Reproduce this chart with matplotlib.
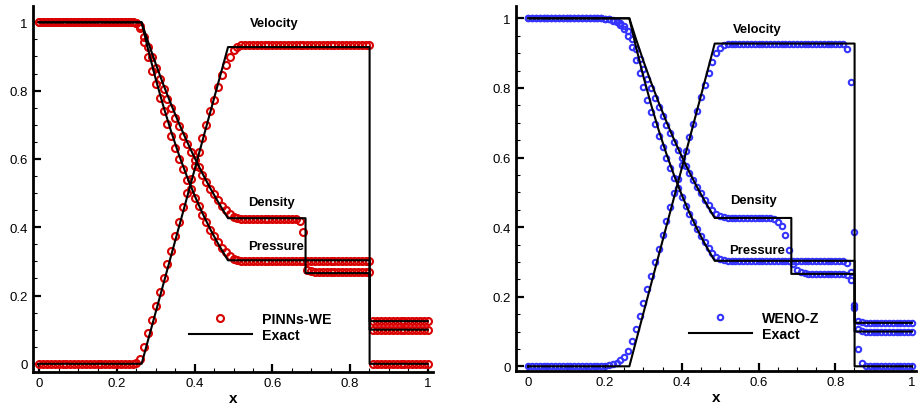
import matplotlib.pyplot as plt
from matplotlib.ticker import MultipleLocator

plt.rcParams['font.family'] = ['Liberation Sans', 'DejaVu Sans']

# mesh nodes (101 points on [0, 1])
x = [0.00, 0.01, 0.02, 0.03, 0.04, 0.05, 0.06, 0.07, 0.08, 0.09,
     0.10, 0.11, 0.12, 0.13, 0.14, 0.15, 0.16, 0.17, 0.18, 0.19,
     0.20, 0.21, 0.22, 0.23, 0.24, 0.25, 0.26, 0.27, 0.28, 0.29,
     0.30, 0.31, 0.32, 0.33, 0.34, 0.35, 0.36, 0.37, 0.38, 0.39,
     0.40, 0.41, 0.42, 0.43, 0.44, 0.45, 0.46, 0.47, 0.48, 0.49,
     0.50, 0.51, 0.52, 0.53, 0.54, 0.55, 0.56, 0.57, 0.58, 0.59,
     0.60, 0.61, 0.62, 0.63, 0.64, 0.65, 0.66, 0.67, 0.68, 0.69,
     0.70, 0.71, 0.72, 0.73, 0.74, 0.75, 0.76, 0.77, 0.78, 0.79,
     0.80, 0.81, 0.82, 0.83, 0.84, 0.85, 0.86, 0.87, 0.88, 0.89,
     0.90, 0.91, 0.92, 0.93, 0.94, 0.95, 0.96, 0.97, 0.98, 0.99,
     1.00]

# PINNs-WE prediction
pinn_rho = [
    1.000, 1.000, 1.000, 1.000, 1.000, 1.000, 1.000, 1.000, 1.000, 1.000,
    1.000, 1.000, 1.000, 1.000, 1.000, 1.000, 1.000, 1.000, 1.000, 1.000,
    1.000, 1.000, 1.000, 1.000, 1.000, 0.999, 0.988, 0.958, 0.927, 0.897,
    0.866, 0.835, 0.806, 0.776, 0.750, 0.721, 0.695, 0.668, 0.643, 0.620,
    0.597, 0.575, 0.554, 0.533, 0.513, 0.497, 0.479, 0.462, 0.449, 0.439,
    0.430, 0.426, 0.424, 0.423, 0.423, 0.423, 0.423, 0.423, 0.423, 0.423,
    0.423, 0.423, 0.423, 0.423, 0.423, 0.423, 0.423, 0.419, 0.385, 0.276,
    0.271, 0.269, 0.269, 0.269, 0.269, 0.269, 0.269, 0.269, 0.269, 0.269,
    0.269, 0.269, 0.269, 0.269, 0.269, 0.269, 0.125, 0.125, 0.125, 0.125,
    0.125, 0.125, 0.125, 0.125, 0.125, 0.125, 0.125, 0.125, 0.125, 0.125,
    0.125]
pinn_u = [
    0.000, 0.000, 0.000, 0.000, 0.000, 0.000, 0.000, 0.000, 0.000, 0.000,
    0.000, 0.000, 0.000, 0.000, 0.000, 0.000, 0.000, 0.000, 0.000, 0.000,
    0.000, 0.000, 0.000, 0.000, 0.000, 0.002, 0.014, 0.050, 0.089, 0.128,
    0.168, 0.209, 0.250, 0.292, 0.331, 0.375, 0.416, 0.458, 0.500, 0.540,
    0.580, 0.620, 0.660, 0.700, 0.739, 0.773, 0.811, 0.846, 0.875, 0.899,
    0.919, 0.929, 0.933, 0.934, 0.934, 0.934, 0.934, 0.934, 0.934, 0.934,
    0.934, 0.934, 0.934, 0.934, 0.934, 0.934, 0.934, 0.934, 0.934, 0.934,
    0.934, 0.934, 0.934, 0.934, 0.934, 0.934, 0.934, 0.934, 0.934, 0.934,
    0.934, 0.934, 0.934, 0.934, 0.934, 0.934, 0.000, 0.000, 0.000, 0.000,
    0.000, 0.000, 0.000, 0.000, 0.000, 0.000, 0.000, 0.000, 0.000, 0.000,
    0.000]
pinn_p = [
    1.000, 1.000, 1.000, 1.000, 1.000, 1.000, 1.000, 1.000, 1.000, 1.000,
    1.000, 1.000, 1.000, 1.000, 1.000, 1.000, 1.000, 1.000, 1.000, 1.000,
    1.000, 1.000, 1.000, 1.000, 1.000, 0.999, 0.984, 0.942, 0.899, 0.858,
    0.818, 0.778, 0.739, 0.702, 0.668, 0.633, 0.600, 0.569, 0.539, 0.512,
    0.486, 0.461, 0.437, 0.414, 0.393, 0.375, 0.356, 0.340, 0.326, 0.316,
    0.307, 0.303, 0.301, 0.300, 0.300, 0.300, 0.300, 0.300, 0.300, 0.300,
    0.300, 0.300, 0.300, 0.300, 0.300, 0.300, 0.300, 0.300, 0.300, 0.300,
    0.300, 0.300, 0.300, 0.300, 0.300, 0.300, 0.300, 0.300, 0.300, 0.300,
    0.300, 0.300, 0.300, 0.300, 0.300, 0.300, 0.100, 0.100, 0.100, 0.100,
    0.100, 0.100, 0.100, 0.100, 0.100, 0.100, 0.100, 0.100, 0.100, 0.100,
    0.100]

# WENO-Z solution
weno_rho = [
    1.000, 1.000, 1.000, 1.000, 1.000, 1.000, 1.000, 1.000, 1.000, 1.000,
    1.000, 1.000, 1.000, 1.000, 1.000, 1.000, 1.000, 1.000, 1.000, 1.000,
    0.999, 0.998, 0.995, 0.992, 0.986, 0.978, 0.963, 0.940, 0.912, 0.884,
    0.855, 0.827, 0.799, 0.772, 0.745, 0.719, 0.693, 0.669, 0.644, 0.621,
    0.598, 0.576, 0.555, 0.534, 0.515, 0.497, 0.479, 0.464, 0.450, 0.438,
    0.432, 0.428, 0.427, 0.426, 0.426, 0.426, 0.426, 0.426, 0.426, 0.426,
    0.426, 0.426, 0.426, 0.426, 0.422, 0.415, 0.404, 0.376, 0.334, 0.295,
    0.278, 0.270, 0.267, 0.266, 0.266, 0.266, 0.266, 0.266, 0.266, 0.266,
    0.266, 0.266, 0.265, 0.262, 0.247, 0.175, 0.130, 0.126, 0.125, 0.125,
    0.125, 0.125, 0.125, 0.125, 0.125, 0.125, 0.125, 0.125, 0.125, 0.125,
    0.125]
weno_u = [
    0.000, 0.000, 0.000, 0.000, 0.000, 0.000, 0.000, 0.000, 0.000, 0.000,
    0.000, 0.000, 0.000, 0.000, 0.000, 0.000, 0.000, 0.000, 0.000, 0.000,
    0.001, 0.003, 0.006, 0.010, 0.017, 0.026, 0.044, 0.073, 0.108, 0.144,
    0.182, 0.221, 0.259, 0.299, 0.338, 0.378, 0.418, 0.457, 0.498, 0.538,
    0.578, 0.618, 0.658, 0.697, 0.735, 0.773, 0.809, 0.843, 0.874, 0.900,
    0.915, 0.923, 0.926, 0.927, 0.927, 0.927, 0.927, 0.927, 0.927, 0.927,
    0.927, 0.927, 0.927, 0.927, 0.927, 0.927, 0.927, 0.927, 0.927, 0.927,
    0.927, 0.927, 0.927, 0.927, 0.927, 0.927, 0.927, 0.927, 0.927, 0.927,
    0.927, 0.927, 0.927, 0.912, 0.816, 0.387, 0.050, 0.010, 0.001, 0.000,
    0.000, 0.000, 0.000, 0.000, 0.000, 0.000, 0.000, 0.000, 0.000, 0.000,
    0.000]
weno_p = [
    1.000, 1.000, 1.000, 1.000, 1.000, 1.000, 1.000, 1.000, 1.000, 1.000,
    1.000, 1.000, 1.000, 1.000, 1.000, 1.000, 1.000, 1.000, 1.000, 1.000,
    0.999, 0.997, 0.993, 0.988, 0.980, 0.970, 0.949, 0.917, 0.879, 0.842,
    0.804, 0.766, 0.731, 0.696, 0.663, 0.630, 0.599, 0.570, 0.540, 0.513,
    0.487, 0.462, 0.438, 0.416, 0.395, 0.375, 0.357, 0.341, 0.327, 0.315,
    0.308, 0.305, 0.304, 0.303, 0.303, 0.303, 0.303, 0.303, 0.303, 0.303,
    0.303, 0.303, 0.303, 0.303, 0.303, 0.303, 0.303, 0.303, 0.303, 0.303,
    0.303, 0.303, 0.303, 0.303, 0.303, 0.303, 0.303, 0.303, 0.303, 0.303,
    0.303, 0.303, 0.302, 0.298, 0.272, 0.167, 0.106, 0.101, 0.100, 0.100,
    0.100, 0.100, 0.100, 0.100, 0.100, 0.100, 0.100, 0.100, 0.100, 0.100,
    0.100]

# exact Riemann solution (Sod), t = 0.2
exact_x = [0.0, 0.2634, 0.28, 0.30, 0.32, 0.34, 0.36, 0.38, 0.40, 0.42,
           0.44, 0.46, 0.48, 0.4859, 0.6855, 0.6855, 0.8504, 0.8504, 1.0]
exact_rho = [1.0, 1.0, 0.9428, 0.8774, 0.8158, 0.7577, 0.7029, 0.6514, 0.6030,
             0.5574, 0.5147, 0.4746, 0.4370, 0.4263, 0.4263, 0.2656, 0.2656,
             0.125, 0.125]
exact_u = [0.0, 0.0, 0.0694, 0.1527, 0.2360, 0.3194, 0.4027, 0.4860, 0.5694,
           0.6527, 0.7360, 0.8194, 0.9027, 0.9275, 0.9275, 0.9275, 0.9275,
           0.0, 0.0]
exact_p = [1.0, 1.0, 0.9208, 0.8327, 0.7521, 0.6781, 0.6105, 0.5488, 0.4925,
           0.4412, 0.3946, 0.3522, 0.3138, 0.3031, 0.3031, 0.3031, 0.3031,
           0.1, 0.1]

tick_vals = [0, 0.2, 0.4, 0.6, 0.8, 1]
tick_text = ['0', '0.2', '0.4', '0.6', '0.8', '1']
names = ['Velocity', 'Density', 'Pressure']


def draw_panel(ax, rho, u, p, color, label, ms, xlim, ylim, text_pos, leg_pos):
    # numerical solution as open circles, exact solution on top
    for i, vals in enumerate([rho, u, p]):
        ax.plot(x, vals, 'o', mfc='none', mec=color, ms=ms, mew=1.5,
                zorder=2, label=label if i == 0 else None)
    for i, vals in enumerate([exact_rho, exact_u, exact_p]):
        ax.plot(exact_x, vals, '-', color='black', lw=1.5, zorder=3,
                label='Exact' if i == 0 else None)

    for name, (tx, ty) in zip(names, text_pos):
        ax.text(tx, ty, name, fontsize=9.4, fontweight='bold',
                ha='left', va='center')

    ax.set_xlim(xlim)
    ax.set_ylim(ylim)
    ax.set_xticks(tick_vals)
    ax.set_xticklabels(tick_text)
    ax.set_yticks(tick_vals)
    ax.set_yticklabels(tick_text)
    ax.xaxis.set_minor_locator(MultipleLocator(0.05))
    ax.yaxis.set_minor_locator(MultipleLocator(0.05))
    ax.tick_params(which='major', direction='in', length=6, width=1.6,
                   labelsize=9.5, pad=4)
    ax.tick_params(which='minor', direction='in', length=3.2, width=0.8)
    ax.spines['top'].set_visible(False)
    ax.spines['right'].set_visible(False)
    ax.spines['left'].set_linewidth(2)
    ax.spines['bottom'].set_linewidth(2)
    ax.set_xlabel('x', fontsize=11, fontweight='bold', labelpad=1)

    ax.legend(loc='center left', bbox_to_anchor=leg_pos, frameon=False,
              numpoints=1, handlelength=4.4, handletextpad=0.75,
              labelspacing=0.15, borderpad=0, borderaxespad=0,
              prop={'size': 10.2, 'weight': 'bold'})


fig = plt.figure(figsize=(9.18, 4.06), dpi=100)

ax1 = fig.add_axes([0.0363, 0.082, 0.4357, 0.9015])
draw_panel(ax1, pinn_rho, pinn_u, pinn_p, '#d80000', 'PINNs-WE', 5.0,
           (-0.0154, 1.0144), (-0.0231, 1.0486),
           [(0.5425, 0.999), (0.538, 0.473), (0.538, 0.346)],
           (0.39, 0.1213))

ax2 = fig.add_axes([0.5621, 0.0845, 0.4357, 0.8975])
draw_panel(ax2, weno_rho, weno_u, weno_p, '#3535ff', 'WENO-Z', 3.9,
           (-0.032, 1.0104), (-0.0126, 1.0345),
           [(0.534, 0.969), (0.526, 0.479), (0.523, 0.335)],
           (0.433, 0.1235))

fig.savefig('out.png', dpi=100)
